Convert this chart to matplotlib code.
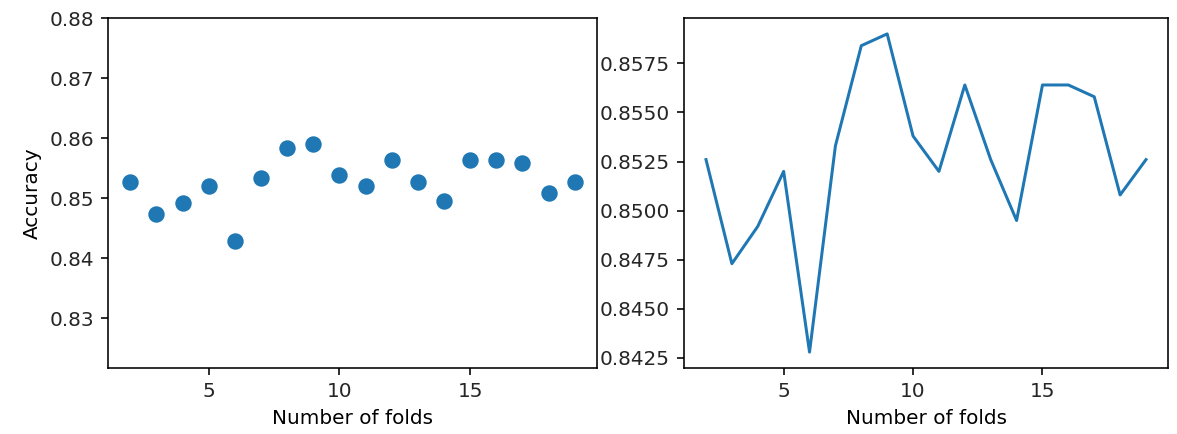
import numpy as np
import matplotlib.pyplot as plt

# cross-validation accuracy per number of folds
folds = list(range(2, 20))
accuracy = [0.8526, 0.8473, 0.8492, 0.8520, 0.8428, 0.8533, 0.8584, 0.8590, 0.8538,
            0.8520, 0.8564, 0.8526, 0.8495, 0.8564, 0.8564, 0.8558, 0.8508, 0.8526]
xticks = [5, 10, 15]


def run():
    plt.rcParams['text.color'] = '#262626'
    plt.rcParams['xtick.labelcolor'] = '#262626'
    plt.rcParams['ytick.labelcolor'] = '#262626'

    fig = plt.figure(figsize=(1177 / 144, 434 / 144), dpi=144)
    ax1 = fig.add_axes([108 / 1177, 1 - 368 / 434, 489 / 1177, 350 / 434])
    ax2 = fig.add_axes([684 / 1177, 1 - 368 / 434, 484 / 1177, 350 / 434])

    ax1.scatter(folds, accuracy, s=52)
    ax1.set_ylim(0.8217, 0.88)
    ax1.set_xticks(xticks)
    ax1.set_xlabel('Number of folds')
    ax1.set_ylabel('Accuracy')

    ax2.plot(folds, accuracy)
    ax2.set_xticks(xticks)
    ax2.set_xlabel('Number of folds')

    fig.savefig('out.png', dpi=144)


if __name__ == '__main__':
    run()
